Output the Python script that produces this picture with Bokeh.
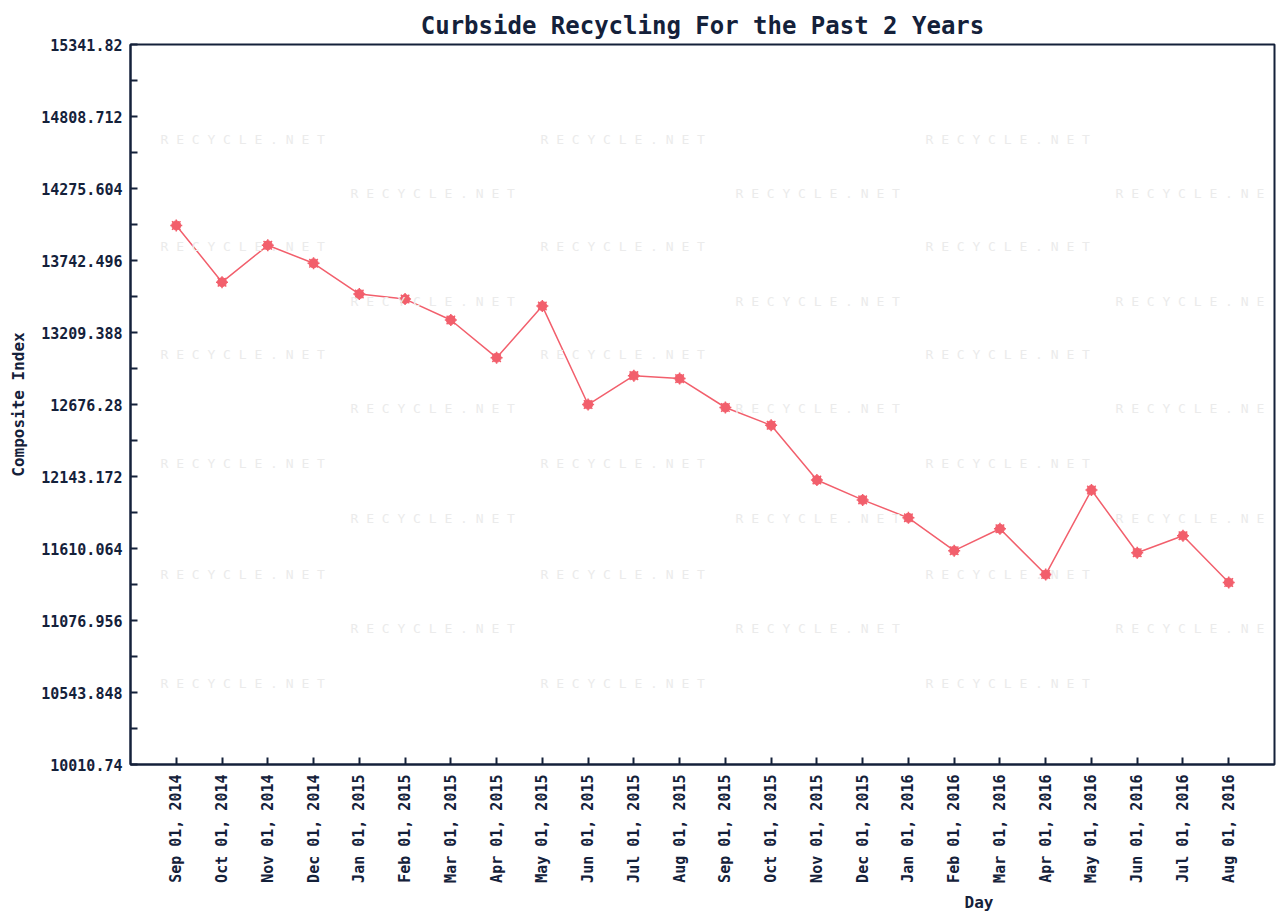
import math
from bokeh.plotting import figure
from bokeh.models import Range1d, FixedTicker, Title, Label
from bokeh.embed import file_html
from bokeh.resources import INLINE

# ---- data ----
months = ["Sep 01, 2014", "Oct 01, 2014", "Nov 01, 2014", "Dec 01, 2014",
          "Jan 01, 2015", "Feb 01, 2015", "Mar 01, 2015", "Apr 01, 2015",
          "May 01, 2015", "Jun 01, 2015", "Jul 01, 2015", "Aug 01, 2015",
          "Sep 01, 2015", "Oct 01, 2015", "Nov 01, 2015", "Dec 01, 2015",
          "Jan 01, 2016", "Feb 01, 2016", "Mar 01, 2016", "Apr 01, 2016",
          "May 01, 2016", "Jun 01, 2016", "Jul 01, 2016", "Aug 01, 2016"]
composite_index = [14002, 13582, 13855, 13722, 13494, 13457, 13302, 13023,
                   13405, 12676, 12890, 12868, 12654, 12522, 12117, 11970,
                   11837, 11594, 11756, 11417, 12043, 11579, 11705, 11358]
y_tick_values = [10010.74, 10543.848, 11076.956, 11610.064, 12143.172, 12676.28,
                 13209.388, 13742.496, 14275.604, 14808.712, 15341.82]
y_tick_labels = ["10010.74", "10543.848", "11076.956", "11610.064", "12143.172",
                 "12676.28", "13209.388", "13742.496", "14275.604", "14808.712",
                 "15341.82"]
y_minor_values = [10277.294, 10810.402, 11343.51, 11876.618, 12409.726,
                  12942.834, 13475.942, 14009.05, 14542.158, 15075.266]

idx = list(range(len(months)))

FONT = "DejaVu Sans Mono"
INK = "#14213a"
RED = "#f25f6c"

W, H = 1276, 916
BL, BT, BR, BB = 130, 44, 2, 148

p = figure(width=W, height=H, output_backend="svg", toolbar_location=None,
           x_range=Range1d(-1, 24), y_range=Range1d(y_tick_values[0], y_tick_values[-1]),
           min_border_left=BL, min_border_top=BT, min_border_right=BR,
           min_border_bottom=BB)
p.background_fill_color = "white"
p.border_fill_color = "white"
p.outline_line_color = INK
p.outline_line_width = 2
p.xgrid.visible = False
p.ygrid.visible = False

p.title.text = "Curbside Recycling For the Past 2 Years"
p.title.align = "center"
p.title.text_font = FONT
p.title.text_font_size = "24px"
p.title.text_font_style = "bold"
p.title.text_color = INK

# watermark (screen units are relative to the frame: x from left, y from bottom)
frame_bottom = H - BB
wm_color = "#ebebeb"
wm_text = "R E C Y C L E . N E T"
cols_a = [160, 540, 925]
rows_a = [143, 250, 358, 467, 578, 687]
cols_b = [350, 735, 1115]
rows_b = [197, 305, 412, 522, 632]
for cols, rows in ((cols_a, rows_a), (cols_b, rows_b)):
    for cx in cols:
        txt = wm_text if cx + 165 < W else "R E C Y C L E . N E"
        for ry in rows:
            p.add_layout(Label(x=cx - BL, y=frame_bottom - ry, x_units="screen",
                               y_units="screen", text=txt, text_font=FONT,
                               text_font_size="13px", text_color=wm_color,
                               text_baseline="middle"))

p.line(idx, composite_index, line_color=RED, line_width=1.5)
p.scatter(idx, composite_index, marker="circle", size=9, fill_color=RED,
          line_color=RED)
p.scatter(idx, composite_index, marker="asterisk", size=12, line_color=RED,
          line_width=1.5)

# x axis
xa = p.xaxis[0]
xa.ticker = FixedTicker(ticks=idx)
xa.major_label_overrides = {i: m for i, m in zip(idx, months)}
xa.major_label_orientation = math.pi / 2
xa.major_label_text_font = FONT
xa.major_label_text_font_size = "15px"
xa.major_label_text_font_style = "bold"
xa.major_label_text_color = INK
xa.major_tick_in = 7
xa.major_tick_out = 0
xa.major_tick_line_width = 2
xa.major_tick_line_color = INK
xa.minor_tick_line_color = None
xa.axis_line_width = 2
xa.axis_line_color = INK
xa.major_label_standoff = 10

# y axis
ya = p.yaxis[0]
ya.ticker = FixedTicker(ticks=y_tick_values, minor_ticks=y_minor_values)
ya.major_label_overrides = {v: s for v, s in zip(y_tick_values, y_tick_labels)}
ya.major_label_text_font = FONT
ya.major_label_text_font_size = "15px"
ya.major_label_text_font_style = "bold"
ya.major_label_text_color = INK
ya.major_tick_in = 7
ya.major_tick_out = 0
ya.minor_tick_in = 7
ya.minor_tick_out = 0
ya.major_tick_line_width = 2
ya.minor_tick_line_width = 2
ya.major_tick_line_color = INK
ya.minor_tick_line_color = INK
ya.axis_line_width = 2
ya.axis_line_color = INK
ya.major_label_standoff = 8
ya.axis_label = "Composite Index"
ya.axis_label_text_font = FONT
ya.axis_label_text_font_size = "16px"
ya.axis_label_text_font_style = "bold"
ya.axis_label_text_color = INK
ya.axis_label_standoff = 10

day = Title(text="Day", align="left", offset=834, text_font=FONT,
            text_font_size="16px", text_font_style="bold", text_color=INK)
p.add_layout(day, "below")

open("out.html", "w").write(file_html(p, INLINE))
